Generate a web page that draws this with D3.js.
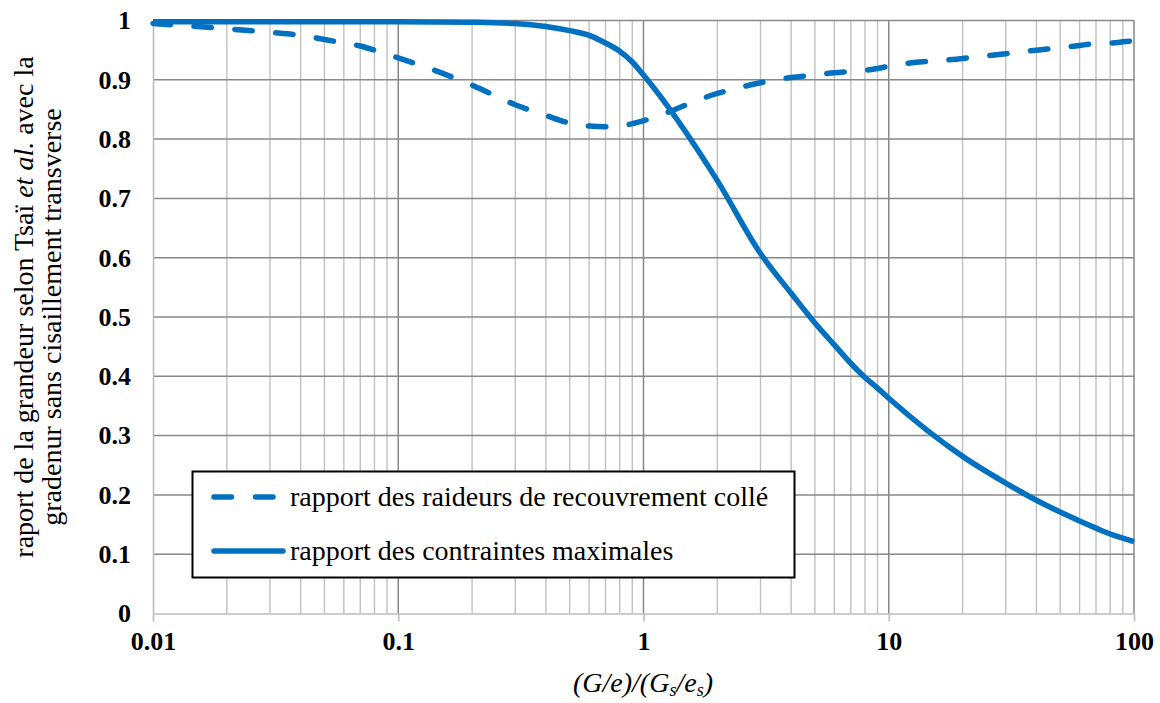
<!DOCTYPE html>
<html>
<head>
<meta charset="utf-8">
<script src="https://cdn.jsdelivr.net/npm/d3@7"></script>
<style>
  html, body { margin: 0; padding: 0; background: #fff; }
  svg { display: block; }
</style>
</head>
<body>
<svg id="chart" width="1160" height="703"></svg>
<script>
// ---- data ----
const xValues = [0.01,0.02,0.03,0.04,0.05,0.06,0.07,0.08,0.09,
                 0.1,0.2,0.3,0.4,0.5,0.6,0.7,0.8,0.9,
                 1,2,3,4,5,6,7,8,9,
                 10,20,30,40,50,60,70,80,90,100];
const raideurs = [0.995,0.986,0.980,0.975,0.968,0.962,0.957,0.950,0.943,
                  0.937,0.891,0.858,0.840,0.827,0.822,0.821,0.822,0.826,
                  0.831,0.877,0.895,0.904,0.908,0.912,0.914,0.916,0.919,
                  0.923,0.936,0.944,0.950,0.954,0.958,0.961,0.962,0.964,0.966];
const contraintes = [0.998,0.998,0.998,0.998,0.998,0.998,0.998,0.998,0.998,
                     0.998,0.997,0.995,0.990,0.983,0.975,0.962,0.948,0.930,
                     0.908,0.730,0.607,0.540,0.490,0.453,0.422,0.398,0.380,
                     0.363,0.265,0.220,0.191,0.171,0.156,0.144,0.134,0.127,0.121];
const xTickValues = [0.01, 0.1, 1, 10, 100];
const xTickLabels = ["0.01", "0.1", "1", "10", "100"];
const yTickValues = [0,0.1,0.2,0.3,0.4,0.5,0.6,0.7,0.8,0.9,1];
const yTickLabels = ["0","0.1","0.2","0.3","0.4","0.5","0.6","0.7","0.8","0.9","1"];
const seriesNames = ["rapport des raideurs de recouvrement collé", "rapport des contraintes maximales"];

(function () {
// ---- layout ----
const svg = d3.select("#chart");
const pLeft = 153, pRight = 1134, pTop = 20.5, pBottom = 613.5;
const x = d3.scaleLog().domain([0.01, 100]).range([pLeft, pRight]);
const y = d3.scaleLinear().domain([0, 1]).range([pBottom, pTop]);
const blue = "#0070C0";
const serif = "'Liberation Serif', 'Times New Roman', serif";

// minor vertical gridlines
const minorX = [];
for (let e = -2; e < 2; e++) for (let m = 2; m <= 9; m++) minorX.push(m * Math.pow(10, e));
svg.append("g").selectAll("line").data(minorX).join("line")
  .attr("x1", d => x(d)).attr("x2", d => x(d))
  .attr("y1", pTop).attr("y2", pBottom)
  .attr("stroke", "#c0c0c0").attr("stroke-width", 1.4);

// horizontal gridlines (major)
svg.append("g").selectAll("line").data(yTickValues.filter(d => d > 0)).join("line")
  .attr("x1", pLeft).attr("x2", pRight)
  .attr("y1", d => y(d)).attr("y2", d => y(d))
  .attr("stroke", "#888888").attr("stroke-width", 1.5);

// major vertical gridlines
svg.append("g").selectAll("line").data(xTickValues.slice(1)).join("line")
  .attr("x1", d => x(d)).attr("x2", d => x(d))
  .attr("y1", pTop).attr("y2", pBottom)
  .attr("stroke", "#888888").attr("stroke-width", 1.5);

// x axis with outward ticks
const xAxis = d3.axisBottom(x).tickValues(xTickValues)
  .tickFormat((d, i) => xTickLabels[i]).tickSizeInner(8).tickSizeOuter(0).tickPadding(10);
const gx = svg.append("g").attr("transform", `translate(0,${pBottom})`).call(xAxis);
gx.select(".domain").attr("stroke", "#bdbdbd").attr("stroke-width", 1.6);
gx.selectAll(".tick line").attr("stroke", "#bdbdbd").attr("stroke-width", 1.6);
gx.selectAll(".tick text").attr("font-family", serif).attr("font-weight", "bold")
  .attr("font-size", 26).attr("fill", "#000");

// y axis
const yAxis = d3.axisLeft(y).tickValues(yTickValues)
  .tickFormat((d, i) => yTickLabels[i]).tickSize(0).tickPadding(22);
const gy = svg.append("g").attr("transform", `translate(${pLeft},0)`).call(yAxis);
gy.select(".domain").attr("stroke", "#bdbdbd").attr("stroke-width", 1.6);
gy.selectAll(".tick text").attr("font-family", serif).attr("font-weight", "bold")
  .attr("font-size", 26).attr("fill", "#000");

// series
const pts = (ys) => xValues.map((v, i) => [v, ys[i]]);
const line = d3.line().x(d => x(d[0])).y(d => y(d[1])).curve(d3.curveMonotoneX);
svg.append("path").datum(pts(raideurs)).attr("d", line)
  .attr("fill", "none").attr("stroke", blue).attr("stroke-width", 5.5)
  .attr("stroke-dasharray", "17.5 23.5").attr("stroke-linecap", "round")
  .attr("stroke-linejoin", "round");
svg.append("path").datum(pts(contraintes)).attr("d", line)
  .attr("fill", "none").attr("stroke", blue).attr("stroke-width", 5.5)
  .attr("stroke-linejoin", "round");

// legend
const lg = svg.append("g");
lg.append("rect").attr("x", 192.5).attr("y", 471.5).attr("width", 602).attr("height", 106)
  .attr("fill", "#fff").attr("stroke", "#000").attr("stroke-width", 2);
lg.append("line").attr("x1", 214).attr("x2", 277).attr("y1", 497).attr("y2", 497)
  .attr("stroke", blue).attr("stroke-width", 5.5).attr("stroke-linecap", "round")
  .attr("stroke-dasharray", "17.5 24");
lg.append("line").attr("x1", 214).attr("x2", 283).attr("y1", 551).attr("y2", 551)
  .attr("stroke", blue).attr("stroke-width", 5.5).attr("stroke-linecap", "round");
lg.selectAll("text").data(seriesNames).join("text")
  .attr("x", 290).attr("y", (d, i) => 506 + i * 54)
  .attr("font-family", serif).attr("font-size", 28).attr("fill", "#000")
  .text(d => d);

// x axis title
const xt = svg.append("text").attr("x", 643).attr("y", 692).attr("text-anchor", "middle")
  .attr("font-family", serif).attr("font-style", "italic").attr("font-size", 28).attr("fill", "#000");
xt.append("tspan").text("(G/e)/(G");
xt.append("tspan").attr("font-size", 18).attr("dy", 4).text("s");
xt.append("tspan").attr("dy", -4).text("/e");
xt.append("tspan").attr("font-size", 18).attr("dy", 4).text("s");
xt.append("tspan").attr("dy", -4).text(")");

// y axis title (two lines)
const yt1 = svg.append("text").attr("transform", "translate(33,307) rotate(-90)")
  .attr("text-anchor", "middle").attr("font-family", serif).attr("font-size", 28).attr("fill", "#000");
yt1.append("tspan").text("raport de la grandeur selon Tsaï ");
yt1.append("tspan").attr("font-style", "italic").text("et al.");
yt1.append("tspan").text(" avec la");
svg.append("text").attr("transform", "translate(61,317) rotate(-90)")
  .attr("text-anchor", "middle").attr("font-family", serif).attr("font-size", 28).attr("fill", "#000")
  .text("gradenur sans cisaillement transverse");
})();
</script>
</body>
</html>
